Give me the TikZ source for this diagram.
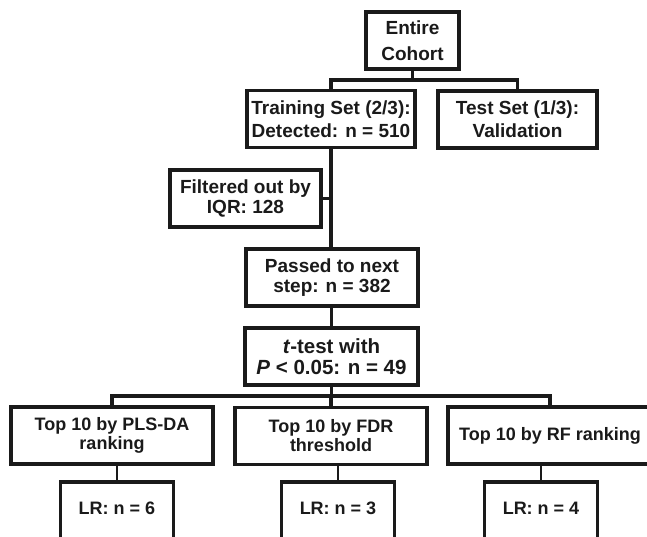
\documentclass[tikz,border=0pt]{standalone}
\usepackage{fontspec}
\setmainfont{Liberation Sans}
\usepackage{xcolor}
\usepackage{tikz}
\definecolor{ink}{HTML}{1A1A1A}

\begin{document}
\begin{tikzpicture}[x=1pt, y=-1pt, every node/.style={font=\fontsize{19}{20}\selectfont\bfseries, text=ink}, box/.style={draw=ink, line width=3.3pt, fill=white, align=center, inner sep=0pt, minimum height=57pt}, low/.style={font=\fontsize{18}{19}\selectfont\bfseries}, lrbox/.style={box, low, minimum width=113pt, minimum height=62pt, text height=13pt, text depth=10pt}, link/.style={draw=ink, line width=3.3pt}, twig/.style={draw=ink, line width=2.2pt}]
\useasboundingbox (0,0) rectangle (647,536);
\clip (0,0) rectangle (647,536);
\coordinate (bus1) at (0,80); \coordinate (bus2) at (0,396);
\node[box, minimum width=93pt] (cohort) at (412.5,40.5) {Entire\\[6pt]Cohort};
\node[box, minimum width=168pt] (train) at (331,119) {Training Set (2/3):\\[3pt]Detected: n = 510};
\node[box, minimum width=159pt] (test) at (517.5,119.5) {Test Set (1/3):\\[3pt]Validation};
\node[box, minimum width=151pt] (filter) at (245.5,198.5) {Filtered out by\\IQR: 128};
\node[box, minimum width=172pt] (passed) at (332,277.5) {Passed to next\\step: n = 382};
\node[box, minimum width=173pt, font=\fontsize{20.5}{21}\selectfont\bfseries] (ttest) at (331.5,356.5) {\textit{t}-test with\\\textit{P} < 0.05: n = 49};
\node[box, low, minimum width=202pt] (plsda) at (112,435.5) {Top 10 by PLS-DA\\ranking};
\node[box, low, minimum width=192pt] (fdr) at (331,436) {Top 10 by FDR\\threshold};
\node[box, low, minimum width=204pt] (rf) at (550,435.5) {Top 10 by RF ranking};
\node[lrbox] (plslr) at (117,513) {LR: n = 6};
\node[lrbox] (fdrlr) at (338,513) {LR: n = 3};
\node[lrbox] (rflr) at (541,513) {LR: n = 4};
\draw[link] (cohort.south) -- (cohort.south |- bus1);
\draw[link] (train.north) -- (train.north |- bus1) -- (test.north |- bus1) -- (test.north);
\draw[link] (train.south) -- (train.south |- passed.north); \draw[link] (filter.east) -- (filter.east -| train.south);
\draw[link] (passed.south -| ttest.north) -- (ttest.north);
\draw[link] (ttest.south) -- (ttest.south |- bus2);
\draw[link] (plsda.north) -- (plsda.north |- bus2) -- (rf.north |- bus2) -- (rf.north); \draw[link] (fdr.north |- bus2) -- (fdr.north);
\draw[twig] (plslr.north) -- (plslr.north |- plsda.south); \draw[twig] (fdrlr.north) -- (fdrlr.north |- fdr.south); \draw[twig] (rflr.north) -- (rflr.north |- rf.south);
\end{tikzpicture}
\end{document}
